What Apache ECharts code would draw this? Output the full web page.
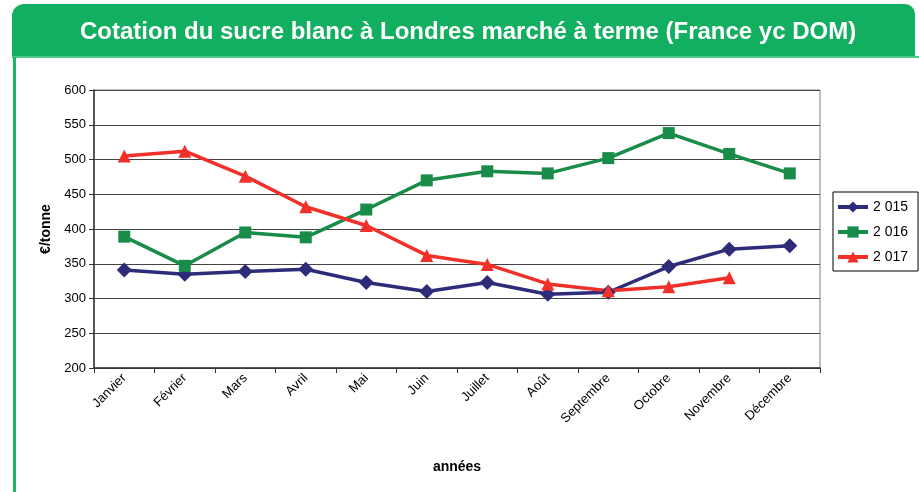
<!DOCTYPE html>
<html>
<head>
<meta charset="utf-8">
<script src="https://cdn.jsdelivr.net/npm/echarts@6/dist/echarts.min.js"></script>
<style>
html,body{margin:0;padding:0;background:#fff;}
#chart{width:919px;height:492px;}
</style>
</head>
<body>
<div id="chart"></div>
<script>
var titleText = 'Cotation du sucre blanc à Londres marché à terme (France yc DOM)';
var months = ['Janvier','Février','Mars','Avril','Mai','Juin','Juillet','Août','Septembre','Octobre','Novembre','Décembre'];
var seriesNames = ['2 015','2 016','2 017'];
var values2015 = [341, 335, 339, 342, 323, 310, 323, 306, 309, 346, 371, 376];
var values2016 = [389, 347, 395, 388, 428, 470, 483, 480, 502, 538, 508, 480];
var values2017 = [505, 512, 476, 432, 405, 362, 349, 321, 311, 317, 330, null];
var yTicks = {min: 200, max: 600, interval: 50};

var chart = echarts.init(document.getElementById('chart'));
var font = 'Liberation Sans, Arial, sans-serif';
var colors = ['#2E2B78', '#188C48', '#F03029'];
function mk(name, data, color, symbol, size) {
  return {
    name: name, type: 'line', data: data,
    symbol: symbol, symbolSize: size,
    lineStyle: {color: color, width: 3.5},
    itemStyle: {color: color},
    connectNulls: false,
    animation: false
  };
}
chart.setOption({
  animation: false,
  textStyle: {fontFamily: font},
  graphic: [
    {type: 'rect', shape: {x: 12, y: 4, width: 903, height: 53, r: [12, 10, 0, 0]}, style: {fill: '#12AF60'}, z: 0},
    {type: 'rect', shape: {x: 12, y: 56, width: 920, height: 2}, style: {fill: '#4CC885'}, z: 0},
    {type: 'rect', shape: {x: 13, y: 57, width: 3, height: 440}, style: {fill: '#1DB866'}, z: 0},
    {type: 'text', left: 80, top: 20, style: {text: titleText, fill: '#fff', font: 'bold 24px ' + font}, z: 1}
  ],
  legend: {
    orient: 'vertical', left: 833, top: 192,
    data: seriesNames,
    itemWidth: 30, itemHeight: 14, itemGap: 11,
    padding: [8, 10, 7, 3],
    borderColor: '#000', borderWidth: 1,
    lineStyle: {width: 4},
    textStyle: {fontSize: 14, color: '#000', fontFamily: font}
  },
  grid: {left: 94, right: 99, top: 90, bottom: 124, show: true, borderColor: '#808080', borderWidth: 1},
  xAxis: {
    type: 'category', data: months, boundaryGap: true,
    name: 'années', nameLocation: 'middle', nameGap: 92,
    nameTextStyle: {fontWeight: 'bold', fontSize: 14, color: '#000'},
    axisLine: {lineStyle: {color: '#333', width: 1.5}},
    axisTick: {show: true, alignWithLabel: false, length: 5, lineStyle: {color: '#333'}},
    axisLabel: {rotate: 45, fontSize: 13, color: '#000', margin: 8, interval: 0}
  },
  yAxis: {
    type: 'value', min: yTicks.min, max: yTicks.max, interval: yTicks.interval,
    name: '€/tonne', nameLocation: 'middle', nameGap: 41,
    nameTextStyle: {fontWeight: 'bold', fontSize: 14, color: '#000'},
    axisLine: {show: true, lineStyle: {color: '#333', width: 1.5}},
    axisTick: {show: true, length: 5, lineStyle: {color: '#333'}},
    axisLabel: {fontSize: 13, color: '#000', margin: 8},
    splitLine: {lineStyle: {color: '#444', width: 1.2}}
  },
  series: [
    mk(seriesNames[0], values2015, colors[0], 'diamond', 15),
    mk(seriesNames[1], values2016, colors[1], 'rect', 12),
    mk(seriesNames[2], values2017, colors[2], 'triangle', 13)
  ]
});
</script>
</body>
</html>
